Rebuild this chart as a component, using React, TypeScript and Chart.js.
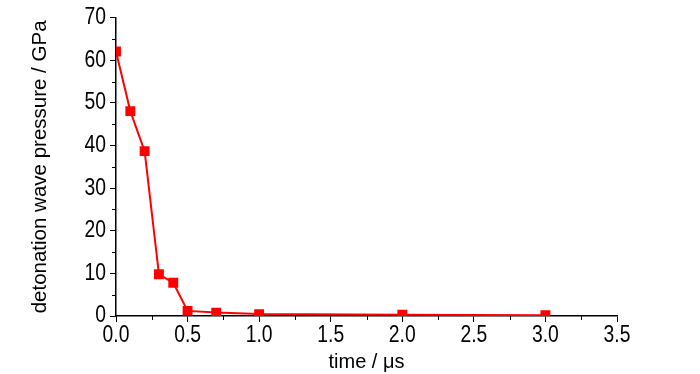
import React, { useEffect, useRef } from "react";
import { Chart, registerables } from "chart.js";

Chart.register(...registerables);

const timeValues = [0, 0.1, 0.2, 0.3, 0.4, 0.5, 0.7, 1.0, 2.0, 3.0];
const pressureValues = [62.1, 48.1, 38.7, 9.8, 7.8, 1.2, 0.8, 0.45, 0.3, 0.2];
const xMinorTicks = [0.25, 0.75, 1.25, 1.75, 2.25, 2.75, 3.25];
const yMinorTicks = [5, 15, 25, 35, 45, 55, 65];

const FONT = "'Liberation Sans', Arial, sans-serif";
const TICK_SIZE = 23;
const CONDENSE = 0.84;

const minorTickPlugin = {
  id: "minorTicks",
  afterDraw(chart: any) {
    const ctx = chart.ctx;
    const xs = chart.scales.x;
    const ys = chart.scales.y;
    ctx.save();
    ctx.strokeStyle = "#000";
    ctx.lineWidth = 1;
    ctx.beginPath();
    xMinorTicks.forEach((v) => {
      const px = Math.round(xs.getPixelForValue(v)) + 0.5;
      ctx.moveTo(px, xs.top);
      ctx.lineTo(px, xs.top + 4);
    });
    yMinorTicks.forEach((v) => {
      const py = Math.round(ys.getPixelForValue(v)) + 0.5;
      ctx.moveTo(ys.right, py);
      ctx.lineTo(ys.right - 4, py);
    });
    ctx.stroke();
    ctx.restore();
  },
};

function patchCondensed(ctx: CanvasRenderingContext2D) {
  const orig = ctx.fillText.bind(ctx);
  (ctx as any).fillText = (text: string, x: number, y: number, maxWidth?: number) => {
    if (ctx.font.indexOf(TICK_SIZE + "px") >= 0) {
      ctx.save();
      ctx.translate(x, y);
      ctx.scale(CONDENSE, 1);
      orig(text, 0, 0);
      ctx.restore();
    } else if (maxWidth !== undefined) {
      orig(text, x, y, maxWidth);
    } else {
      orig(text, x, y);
    }
  };
}

export default function App() {
  const ref = useRef<HTMLCanvasElement>(null);
  useEffect(() => {
    document.body.style.margin = "0";
    const canvas = ref.current as HTMLCanvasElement;
    const ctx = canvas.getContext("2d") as CanvasRenderingContext2D;
    patchCondensed(ctx);
    const chart = new Chart(ctx, {
      type: "line",
      data: {
        datasets: [
          {
            data: timeValues.map((t, i) => ({ x: t, y: pressureValues[i] })),
            borderColor: "#ff0000",
            backgroundColor: "#ff0000",
            borderWidth: 2,
            pointStyle: "rect",
            pointRadius: 7,
            pointBorderWidth: 0,
            tension: 0,
            clip: 0,
          },
        ],
      },
      options: {
        animation: false,
        responsive: false,
        plugins: { legend: { display: false }, tooltip: { enabled: false } },
        layout: { padding: { left: 28, right: 83, top: 16, bottom: 0 } },
        scales: {
          x: {
            type: "linear",
            min: 0,
            max: 3.5,
            z: 1,
            afterFit: (s: any) => {
              s.height = 58;
            },
            ticks: {
              stepSize: 0.5,
              color: "#000",
              padding: 0,
              autoSkip: false,
              maxRotation: 0,
              font: { family: FONT, size: TICK_SIZE },
              callback: (v: any) => Number(v).toFixed(1),
            },
            grid: {
              display: true,
              drawOnChartArea: false,
              drawTicks: true,
              tickLength: 6,
              color: "#000",
              lineWidth: 1,
            },
            border: { display: true, color: "#000", width: 1.5 },
            title: {
              display: true,
              text: "time / μs",
              color: "#000",
              font: { family: FONT, size: 20 },
              padding: { top: 0, bottom: 0 },
            },
          },
          y: {
            type: "linear",
            min: 0,
            max: 70,
            z: 1,
            afterFit: (s: any) => {
              s.width = 88;
            },
            ticks: {
              stepSize: 10,
              color: "#000",
              padding: 4,
              font: { family: FONT, size: TICK_SIZE },
            },
            grid: {
              display: true,
              drawOnChartArea: false,
              drawTicks: true,
              tickLength: 6,
              color: "#000",
              lineWidth: 1,
            },
            border: { display: true, color: "#000", width: 1.5 },
            title: {
              display: true,
              text: "detonation wave pressure / GPa",
              color: "#000",
              font: { family: FONT, size: 20.5 },
              padding: { top: 0, bottom: 0 },
            },
          },
        },
      },
      plugins: [minorTickPlugin],
    });
    return () => chart.destroy();
  }, []);
  return <canvas ref={ref} width={700} height={374} style={{ display: "block" }} />;
}
